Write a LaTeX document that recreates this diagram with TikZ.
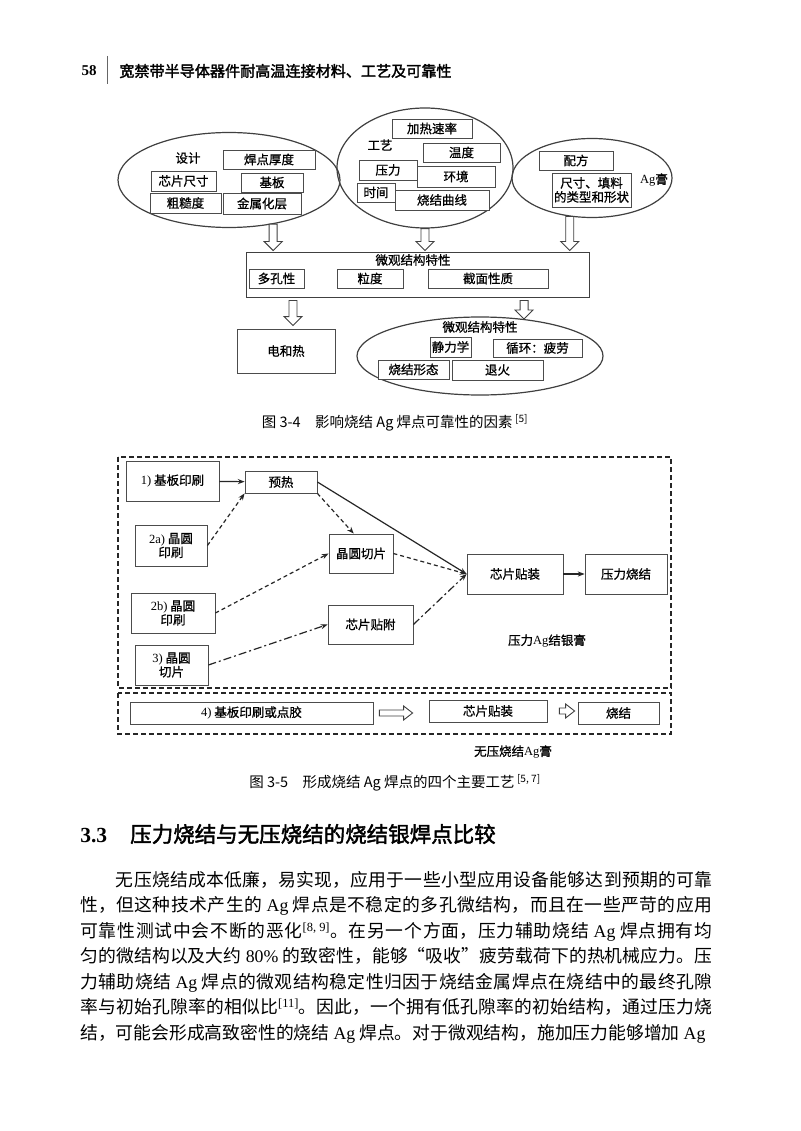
\documentclass[tikz,border=0pt]{standalone}
\usepackage{fontspec}
\setmainfont{Noto Sans CJK SC}
\newfontfamily\tnr{Liberation Serif}
\newfontfamily\hei[FakeBold=2]{Noto Sans CJK SC}
\newfontfamily\figfont[FakeBold=0.8]{Noto Sans CJK SC}
\usetikzlibrary{arrows.meta, calc, shapes.geometric}
\XeTeXlinebreaklocale "zh"
\XeTeXlinebreakskip=0pt plus 2pt

\begin{document}
\begin{tikzpicture}[x=1pt, y=-1pt, >={Stealth[length=2.4mm]}, line width=0.7pt,
  every node/.style={inner sep=0pt},
  fig/.style={font=\fontsize{12.5}{14}\selectfont\figfont},
  cell/.style 2 args={fig, draw=black!70, line width=0.8pt, fill=white, minimum width=#1, minimum height=#2, align=center},
  oval/.style 2 args={ellipse, draw=black!75, line width=1.2pt, minimum width=#1, minimum height=#2},
  hollowdown/.style={draw=black!75, line width=0.9pt, fill=white, to path={let \p1=(\tikztostart), \p2=(\tikztotarget) in
    (\x1-4pt,\y1) -- (\x1+4pt,\y1) -- (\x1+4pt,\y2+9pt) -- (\x1+9pt,\y2+9pt) -- (\x1,\y2) -- (\x1-9pt,\y2+9pt) -- (\x1-4pt,\y2+9pt) -- cycle}},
  hollowright/.style={draw=black!75, line width=0.9pt, fill=white, to path={let \p1=(\tikztostart), \p2=(\tikztotarget) in
    (\x1,\y1+3pt) -- (\x2-9pt,\y1+3pt) -- (\x2-9pt,\y1+7pt) -- (\x2,\y1) -- (\x2-9pt,\y1-7pt) -- (\x2-9pt,\y1-3pt) -- (\x1,\y1-3pt) -- cycle}},
  flow/.style={->, line width=1.2pt, black!85},
  flowdash/.style={flow, dash pattern=on 4pt off 3pt},
  flowdot/.style={flow, dash pattern=on 8pt off 3pt on 2pt off 3pt},
  group/.style={line width=1.6pt, black!85, dash pattern=on 5pt off 3pt},
  capt/.style={font=\fontsize{14.5}{15}\selectfont}]
  \fill[white] (0,0) rectangle (800,1131);
  \useasboundingbox (0,0) rectangle (800,1131);

  % --- page head ---
  \node[anchor=east, font=\fontsize{15}{15}\selectfont\tnr\bfseries] (pageno) at (97,71) {58};
  \draw[black!60, line width=1pt] (107,56) -- (107,84);
  \node[anchor=west, font=\fontsize{15.1}{16}\selectfont\hei] (booktitle) at (119,71) {宽禁带半导体器件耐高温连接材料、工艺及可靠性};

  % --- figure 3-4: factors ---
  \begin{scope}
    \node[oval={222}{95}] (design) at (229,180) {};
    \node[oval={176}{120}] (process) at (425,168) {};
    \node[oval={160}{79}] (paste) at (592,178) {};
    \node[fig] (designlab) at (188,158) {设计};
    \node[cell={92}{19}] (thick) at (269,159.5) {焊点厚度};
    \node[cell={65}{20}] (chip) at (183.5,181) {芯片尺寸};
    \node[cell={62}{19}] (subst) at (272,182.5) {基板};
    \node[cell={71}{20}] (rough) at (185.5,203) {粗糙度};
    \node[cell={78}{21}] (metal) at (262,203.5) {金属化层};
    \node[fig] (proclab) at (380,145) {工艺};
    \node[cell={80}{19}] (rate) at (432,128.5) {加热速率};
    \node[cell={77}{19}] (temp) at (461.5,152.5) {温度};
    \node[cell={58}{20}] (press) at (388,170) {压力};
    \node[cell={78}{21}] (env) at (456,176.5) {环境};
    \node[cell={94}{20}] (curve) at (442,200) {烧结曲线};
    \node[cell={38}{19}] (time) at (376,192.5) {时间};
    \node[cell={74}{19}] (recipe) at (576,160.5) {配方};
    \node[cell={79}{34}] (filler) at (591.5,190) {尺寸、填料\\的类型和形状};
    \node[fig] (pastelab) at (654,180) {{\tnr Ag}膏};
    \node[draw=black!75, line width=0.9pt, minimum width=343, minimum height=45] (micro) at (417.5,274.5) {};
    \node[fig] (microlab) at (413,260) {微观结构特性};
    \node[cell={55}{19}] (pore) at (276.5,278.5) {多孔性};
    \node[cell={66}{19}] (grain) at (370,278.5) {粒度};
    \node[cell={120}{19}] (iface) at (488,278.5) {截面性质};
    \node[cell={98}{44}] (heat) at (286,351) {电和热};
    \node[oval={246}{78}] (reli) at (480,356) {};
    \node[fig] (relilab) at (480,327) {微观结构特性};
    \node[cell={41}{20}] (static) at (450.5,347) {静力学};
    \node[cell={89}{18}] (cyclic) at (537.5,348) {循环：疲劳};
    \node[cell={71}{19}] (morph) at (413.5,369.5) {烧结形态};
    \node[cell={91}{20}] (anneal) at (497.5,370) {退火};
    \draw[hollowdown] (design.-45) to ($(design.-45 |- micro.north)+(0,-1)$);
    \draw[hollowdown] (process.south) to ($(process.south |- micro.north)+(0,-1)$);
    \draw[hollowdown] (paste.-120) to ($(paste.-120 |- micro.north)+(0,-1)$);
    \draw[hollowdown] ($(micro.south -| heat.north)+(7,3)$) to ($(heat.north)+(7,-3)$);
    \draw[hollowdown] ($(micro.south -| reli.40)+(0,3)$) to (reli.40);
    \node[capt] (cap34) at (395,423) {图 3-4\quad 影响烧结 Ag 焊点可靠性的因素\,\textsuperscript{[5]}};
  \end{scope}

  % --- figure 3-5: four processes ---
  \begin{scope}
    \draw[group] (118,457) rectangle (671,688);
    \draw[group] (118,693) rectangle (671,734);
    \node[cell={93}{40}] (s1) at (172.5,481) {{\tnr 1)} 基板印刷};
    \node[cell={72}{22}] (preheat) at (281,482) {预热};
    \node[cell={72}{41}] (s2a) at (171,545.5) {{\tnr 2a)} 晶圆\\印刷};
    \node[cell={64}{39}] (dice) at (361,553.5) {晶圆切片};
    \node[cell={84}{40}] (s2b) at (173,613) {{\tnr 2b)} 晶圆\\印刷};
    \node[cell={85}{39}] (attach) at (370.5,624.5) {芯片贴附};
    \node[cell={73}{40}] (s3) at (171.5,665) {{\tnr 3)} 晶圆\\切片};
    \node[cell={96}{40}] (mount) at (515,574) {芯片贴装};
    \node[cell={82}{40}] (psinter) at (626,574) {压力烧结};
    \node[fig] (plab) at (547,641) {压力{\tnr Ag}结银膏};
    \draw[flow] (s1) -- (preheat);
    \draw[flowdash] (s2a.east) -- (preheat.south west);
    \draw[flowdash] (preheat.south east) -- (dice.110);
    \draw[flow] (preheat.east) -- (mount.west);
    \draw[flowdash] (dice.east) -- (mount.west);
    \draw[flowdash] (s2b.east) -- (dice.west);
    \draw[flowdot] (s3.east) -- (attach.west);
    \draw[flowdot] (attach.east) -- (mount.west);
    \draw[flow] (mount) -- (psinter);
    \node[cell={243}{22}] (s4) at (251.5,713) {{\tnr 4)} 基板印刷或点胶};
    \node[cell={118}{22}] (bmount) at (488,711) {芯片贴装};
    \node[cell={81}{22}] (bsinter) at (618.5,713) {烧结};
    \node[fig] (flab) at (513,752) {无压烧结{\tnr Ag}膏};
    \draw[hollowright] ($(s4.east)+(6,0)$) to ($(bmount.west)+(-16,0)$);
    \draw[hollowright] ($(bmount.east)+(12,0)$) to ($(bsinter.west)+(-3,0)$);
    \node[capt] (cap35) at (395,783) {图 3-5\quad 形成烧结 Ag 焊点的四个主要工艺\,\textsuperscript{[5, 7]}};
  \end{scope}

  % --- section text ---
  \node[anchor=west, font=\fontsize{21.5}{22}\selectfont] (sechead) at (80,834) {{\tnr\bfseries 3.3}\hspace{23pt}{\hei 压力烧结与无压烧结的烧结银焊点比较}};
  \node[anchor=north west, text width=632pt, align=justify, font=\fontsize{17.8}{25.5}\selectfont] (body) at (80,871) {\parfillskip=0pt \parindent=0pt
    \hspace*{2em}无压烧结成本低廉，易实现，应用于一些小型应用设备能够达到预期的可靠\linebreak
    性，但这种技术产生的 {\tnr Ag} 焊点是不稳定的多孔微结构，而且在一些严苛的应用\linebreak
    可靠性测试中会不断的恶化\textsuperscript{\tnr [8, 9]}。在另一个方面，压力辅助烧结 {\tnr Ag} 焊点拥有均\linebreak
    匀的微结构以及大约 {\tnr 80\%} 的致密性，能够“吸收”疲劳载荷下的热机械应力。压\linebreak
    力辅助烧结 {\tnr Ag} 焊点的微观结构稳定性归因于烧结金属焊点在烧结中的最终孔隙\linebreak
    率与初始孔隙率的相似比\textsuperscript{\tnr [11]}。因此，一个拥有低孔隙率的初始结构，通过压力烧\linebreak
    结，可能会形成高致密性的烧结 {\tnr Ag} 焊点。对于微观结构，施加压力能够增加 {\tnr Ag}};
\end{tikzpicture}
\end{document}
